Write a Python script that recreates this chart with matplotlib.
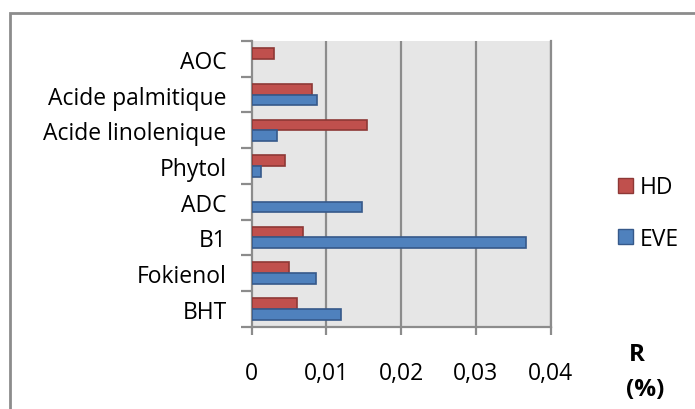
import numpy as np
import matplotlib
matplotlib.use('Agg')
import matplotlib.pyplot as plt
from matplotlib.patches import Rectangle, Patch

plt.rcParams['font.family'] = ['Open Sans', 'DejaVu Sans']

# Daten (von unten nach oben)
composes = ['BHT', 'Fokienol', 'B1', 'ADC', 'Phytol',
            'Acide linolenique', 'Acide palmitique', 'AOC']
hd = [0.0061, 0.0050, 0.0069, 0.0, 0.0044, 0.0154, 0.0080, 0.0030]
eve = [0.0120, 0.0086, 0.0367, 0.0147, 0.0012, 0.0034, 0.0087, 0.0]
xticks = [0, 0.01, 0.02, 0.03, 0.04]
xlabels = ['0', '0,01', '0,02', '0,03', '0,04']

W, H = 695, 410
fs = 16.5
fig = plt.figure(figsize=(W / 100, H / 100), dpi=100)
ax = fig.add_axes([251.7 / W, 1 - 327.7 / H, 299 / W, 285.7 / H])
ax.set_facecolor('#e6e6e6')

grau = '#8c8c8c'
y = np.arange(len(composes))
hd = np.array(hd)
eve = np.array(eve)
# Balken mit Wert 0 nicht zeichnen (sonst sieht man den Rand)
m1 = hd > 0
m2 = eve > 0
ax.barh(y[m1] + 0.15, hd[m1], height=0.3, color='#c0504d', edgecolor='#8e3836', linewidth=1.2, zorder=3)
ax.barh(y[m2] - 0.15, eve[m2], height=0.3, color='#4f81bd', edgecolor='#36598a', linewidth=1.2, zorder=3)

ax.set_xlim(0, 0.04)
ax.set_ylim(-0.5, len(composes) - 0.5)
for x in xticks[1:]:
    ax.axvline(x, color=grau, lw=1.6, zorder=1)

ax.set_yticks(y)
ax.set_yticklabels(composes, fontsize=fs)
ax.set_yticks(np.arange(-0.5, len(composes)), minor=True)
ax.tick_params(axis='y', which='major', length=0, pad=18)
ax.tick_params(axis='y', which='minor', length=8, width=1.6, color=grau)
ax.set_xticks(xticks)
ax.set_xticklabels(xlabels, fontsize=fs)
ax.tick_params(axis='x', length=6, width=1.6, color=grau, pad=19)

ax.spines['top'].set_visible(False)
for s in ['left', 'bottom', 'right']:
    ax.spines[s].set_color(grau)
    ax.spines[s].set_linewidth(1.6)

# Legende
handles = [Patch(facecolor='#c0504d', edgecolor='#8e3836', label='HD'),
           Patch(facecolor='#4f81bd', edgecolor='#36598a', label='EVE')]
fig.legend(handles=handles, loc='center left', bbox_to_anchor=(597 / W, 1 - 214 / H),
           frameon=False, fontsize=fs, handlelength=0.65, handleheight=0.65,
           handletextpad=0.3, labelspacing=1.2)

fig.text(629 / W, 1 - 355 / H, 'R', fontsize=17.5, fontweight='bold', va='center', ha='left')
fig.text(626 / W, 1 - 390 / H, '(%)', fontsize=17.5, fontweight='bold', va='center', ha='left')

# Rahmen
fig.patches.append(Rectangle((10 / W, -0.1), 1.2, 1.1 - 13.5 / H, transform=fig.transFigure,
                             fill=False, edgecolor=grau, lw=2))

fig.savefig('out.png', dpi=100)
